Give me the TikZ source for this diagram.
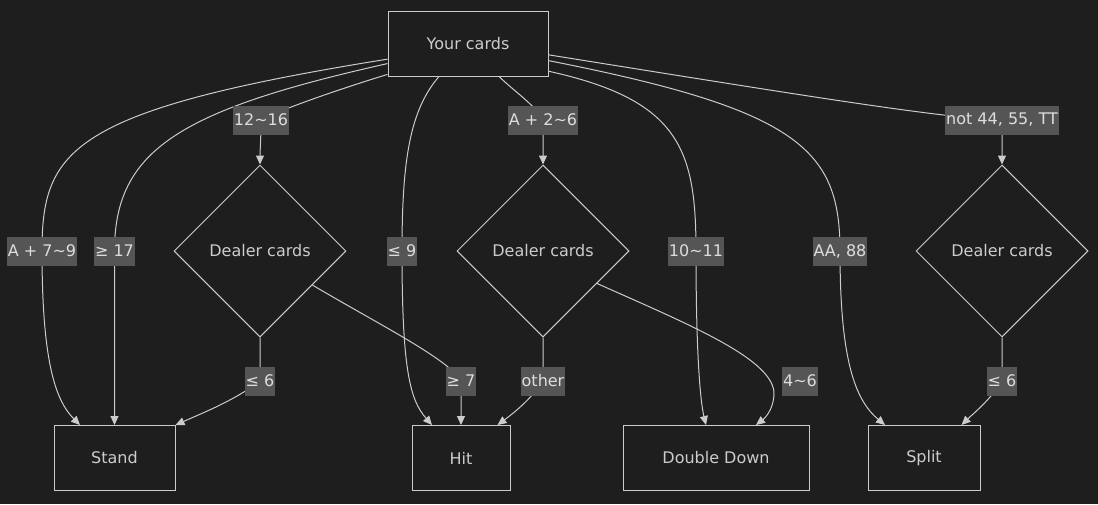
\documentclass[tikz,border=0pt]{standalone}
\usepackage{fontspec}
\setmainfont{DejaVu Sans}
\usetikzlibrary{arrows.meta,shapes.geometric}

\definecolor{bgdark}{HTML}{1E1E1E}
\definecolor{fgline}{HTML}{CCCCCC}
\definecolor{lblbg}{HTML}{555555}
\definecolor{lbltext}{HTML}{DDDDDD}

\pgfdeclarelayer{bg}
\pgfdeclarelayer{edges}
\pgfsetlayers{bg,edges,main}

\tikzset{
  box/.style={draw=fgline, line width=1pt, text=fgline, minimum height=65pt, inner sep=0pt, font=\fontsize{16}{19}\selectfont},
  dealer/.style={diamond, draw=fgline, line width=1pt, text=fgline, minimum size=172pt, inner sep=0pt, font=\fontsize{16}{19}\selectfont},
  lbl/.style={fill=lblbg, text=lbltext, minimum height=29pt, inner xsep=1pt, inner ysep=0pt, font=\fontsize{16}{19}\selectfont},
  edge/.style={draw=fgline, line width=1pt, -{Triangle[length=9pt,width=8pt]}}
}

\begin{document}
\begin{tikzpicture}[x=1pt, y=-1pt]
\begin{pgfonlayer}{bg}
\fill[bgdark] (0,0) rectangle (1098,504);
\end{pgfonlayer}
\useasboundingbox (0,0) rectangle (1098,504);

% nodes
\node[box, minimum width=160pt] (cards) at (468,43.5) {Your cards};
\node[dealer] (dlr1) at (260,251) {Dealer cards};
\node[dealer] (dlr2) at (543,251) {Dealer cards};
\node[dealer] (dlr3) at (1002,251) {Dealer cards};
\node[box, minimum width=121pt] (stand) at (114.5,458) {Stand};
\node[box, minimum width=98pt] (hit) at (461,458) {Hit};
\node[box, minimum width=186pt] (double) at (716,458) {Double Down};
\node[box, minimum width=112pt] (split) at (924,458) {Split};

% edge labels
\node[lbl] (a79) at (42,251) {A + 7\textasciitilde9};
\node[lbl] (ge17) at (114.5,251) {≥ 17};
\node[lbl] (r1216) at (261,120) {12\textasciitilde16};
\node[lbl] (le9) at (402,251) {≤ 9};
\node[lbl] (a26) at (543,120) {A + 2\textasciitilde6};
\node[lbl] (r1011) at (696,251) {10\textasciitilde11};
\node[lbl] (aa88) at (840,251) {AA, 88};
\node[lbl] (notpair) at (1002,120) {not 44, 55, TT};
\node[lbl] (le6a) at (260,381) {≤ 6};
\node[lbl] (ge7) at (461,381) {≥ 7};
\node[lbl] (other) at (543,381) {other};
\node[lbl] (r46) at (800,381) {4\textasciitilde6};
\node[lbl] (le6b) at (1002,381) {≤ 6};

% connectors
\begin{pgfonlayer}{edges}
\draw[edge] (cards.191) .. controls (70,110) and (42,150) .. (a79.center) .. controls (42,360) and (55,400) .. ([xshift=-34.5pt]stand.north);
\draw[edge] (cards.194) .. controls (180,110) and (114.5,150) .. (ge17.center) -- (stand.north);
\draw[edge] (cards.201) .. controls (330,92) and (275,112) .. (r1216.center) .. controls (261,140) and (260,150) .. (dlr1.north);
\draw[edge] ([xshift=-29pt]cards.south) .. controls (410,110) and (402,160) .. (le9.center) .. controls (402,370) and (410,400) .. ([xshift=-29pt]hit.north);
\draw[edge] ([xshift=31pt]cards.south) .. controls (515,92) and (535,105) .. (a26.center) -- (dlr2.north);
\draw[edge] (cards.341) .. controls (680,100) and (696,150) .. (r1011.center) .. controls (696,350) and (700,400) .. ([xshift=-10pt]double.north);
\draw[edge] (cards.348) .. controls (800,110) and (840,150) .. (aa88.center) .. controls (840,360) and (855,400) .. ([xshift=-39pt]split.north);
\draw[edge] (cards.352) .. controls (800,95) and (940,118) .. (notpair.center) .. controls (1002,135) and (1002,150) .. (dlr3.north);
\draw[edge] (dlr1.south) -- (le6a.center) .. controls (235,400) and (205,412) .. (stand.north east);
\draw[edge] (dlr1.-33) .. controls (380,325) and (450,360) .. (ge7.center) -- (hit.north);
\draw[edge] (dlr2.south) -- (other.center) .. controls (530,400) and (515,412) .. ([xshift=-13pt]hit.north east);
\draw[edge] (dlr2.-31) .. controls (690,325) and (776,360) .. (774,395) .. controls (773,410) and (765,418) .. ([xshift=40pt]double.north);
\draw[edge] (dlr3.south) -- (le6b.center) .. controls (990,400) and (975,412) .. ([xshift=-19pt]split.north east);
\end{pgfonlayer}
\end{tikzpicture}
\end{document}
